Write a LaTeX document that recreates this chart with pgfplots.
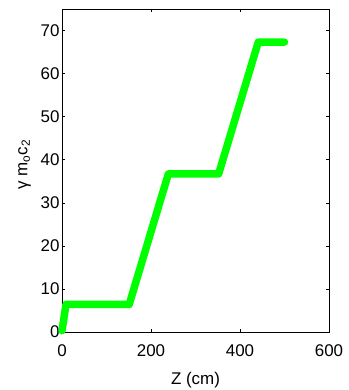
\documentclass[border=0pt]{standalone}
\usepackage{fontspec}
\setmainfont{Liberation Sans}
\usepackage{pgfplots}
\pgfplotsset{compat=1.18}
\definecolor{lgreen}{RGB}{0,255,0}
\begin{document}
\begin{tikzpicture}
\begin{axis}[
  name=ax,
  scale only axis,
  width=267bp, height=323bp,
  xmin=0, xmax=600, ymin=0, ymax=75,
  xtick={0,200,400,600},
  ytick={0,10,20,30,40,50,60,70},
  tick align=inside,
  major tick length=3bp,
  tick style={black, line width=0.5pt},
  axis line style={black, line width=0.8pt},
  ticklabel style={font=\fontsize{17}{19}\selectfont},
  label style={font=\fontsize{17}{19}\selectfont},
  yticklabel style={xshift=1bp},
  xticklabel style={yshift=-9bp},
  /pgf/number format/assume math mode=true,
  xlabel={Z (cm)},
  ylabel={γ m\textsubscript{o}c\textsubscript{2}},
  xlabel style={yshift=-9bp},
  ylabel style={yshift=3bp, xshift=6bp},
  clip=false,
]
\addplot[color=lgreen, line width=7.5bp, line cap=round, line join=round] coordinates {
  (0,0.3) (9,6.4) (151,6.4) (239,36.7) (352,36.7) (441,67.3) (500,67.3)
};
\end{axis}
\pgfresetboundingbox
\path[use as bounding box] (ax.south west) ++(-62bp,-58bp) rectangle ([xshift=20bp,yshift=9bp]ax.north east);
\end{tikzpicture}
\end{document}
